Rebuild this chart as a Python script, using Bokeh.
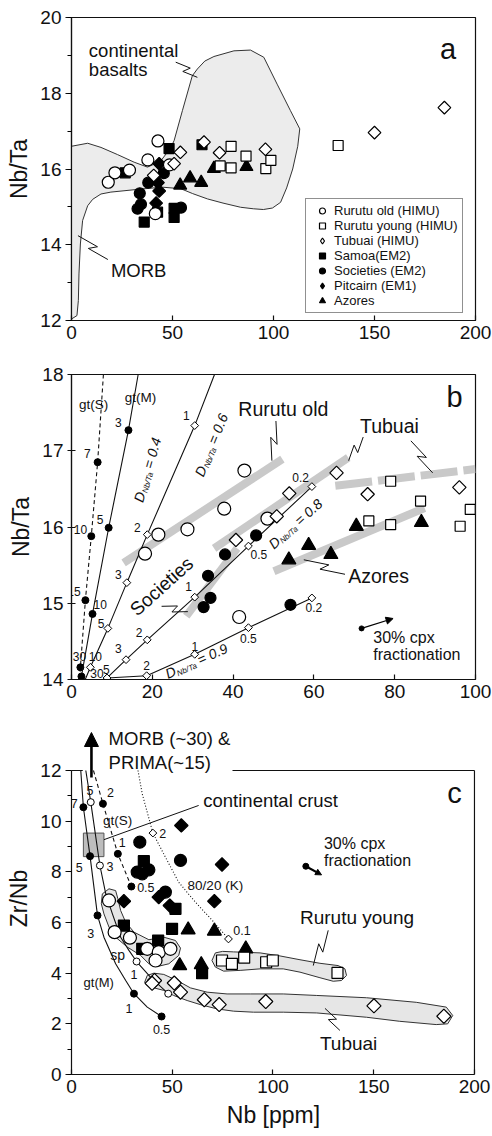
import math
from bokeh.plotting import figure
from bokeh.layouts import column
from bokeh.models import (Label, Legend, LegendItem, Arrow, NormalHead,
                          SingleIntervalTicker, Range1d)
from bokeh.embed import file_html
from bokeh.resources import INLINE

FONT = "Liberation Sans"

# ---------------- data : Nb (ppm) vs Nb/Ta (panels a, b) ----------------
rurutu_old_nb = [18.2, 21.5, 28.7, 37.8, 42.8, 48.5, 41.5]
rurutu_old_nbta = [15.65, 15.90, 15.97, 16.24, 16.74, 16.11, 14.82]
rurutu_young_nb = [73.6, 79.0, 79.0, 86.4, 96.2, 98.7, 132.0]
rurutu_young_nbta = [16.08, 16.60, 16.03, 16.34, 16.01, 16.23, 16.62]
tubuai_nb = [40.7, 50.8, 53.9, 65.6, 73.3, 96.0, 150.0, 184.6]
tubuai_nbta = [15.83, 16.14, 16.44, 16.71, 16.43, 16.52, 16.96, 17.62]
samoa_nb = [26.6, 48.3, 36.0, 42.6, 50.8, 50.8, 64.6]
samoa_nbta = [15.90, 16.54, 14.60, 14.86, 14.96, 14.72, 16.64]
societies_nb = [33.8, 38.0, 45.7, 34.4, 32.7, 54.2]
societies_nbta = [15.36, 15.64, 15.89, 15.07, 14.95, 14.98]
pitcairn_nb = [43.4, 42.8, 43.4, 41.9]
pitcairn_nbta = [16.14, 15.64, 15.42, 15.10]
azores_nb = [53.8, 58.7, 64.2, 70.5, 86.6]
azores_nbta = [15.57, 15.76, 15.64, 16.01, 16.06]

# field of continental basalts + MORB (panel a)
cont_field_nb = [0.0, 8.0, 14.6, 22.8, 31.0, 37.6, 44.0, 49.0, 50.8, 54.9, 59.8, 62.3, 66.0,
                 70.5, 80.4, 88.6, 95.2, 101.8, 108.4, 113.0, 112.0, 109.5, 106.5, 103.5, 99.5,
                 95.0, 90.0, 83.7, 75.0, 67.3, 60.0, 54.1, 45.0, 34.3, 19.5, 14.6, 10.5, 8.0,
                 5.5, 4.4, 3.7, 3.4, 2.7, 0.0]
cont_field_nbta = [16.60, 16.68, 16.57, 16.38, 16.18, 16.05, 16.20, 16.55, 16.75, 17.54, 18.46,
                   18.64, 18.85, 18.97, 19.12, 19.14, 18.95, 18.24, 17.54, 17.06, 16.60, 16.00,
                   15.50, 15.12, 14.97, 14.93, 14.95, 14.99, 15.10, 15.21, 15.35, 15.48, 15.52,
                   15.47, 15.39, 15.34, 15.20, 15.03, 14.64, 14.02, 13.23, 12.53, 12.13, 12.04]

# panel b trend bands
rur_old_band_nb = [12.9, 52.2]
rur_old_band_nbta = [15.53, 16.89]
societies_band_nb = [28.4, 41.0]
societies_band_nbta = [14.83, 15.72]
tubuai_band_nb = [35.3, 68.5]
tubuai_band_nbta = [15.72, 16.91]
tubuai_band2_nb = [65.3, 100.0]
tubuai_band2_nbta = [16.54, 16.76]
azores_band_nb = [50.1, 87.4]
azores_band_nbta = [15.42, 16.25]

# panel b melting models (F = % melting)
gtS_b_nb = [7.9, 6.47, 4.9, 3.44, 2.2, 1.95]
gtS_b_nbta = [18.0, 16.85, 15.88, 15.04, 14.16, 14.0]
gtS_b_F = [None, "7", "10", "15", "30", None]
gtM_b_nb = [16.5, 14.1, 9.2, 5.2, 2.46, 2.3]
gtM_b_nbta = [18.0, 17.27, 15.99, 14.86, 14.04, 14.0]
gtM_b_F = [None, "3", "5", "10", "30", None]
d06_nb = [35.4, 30.5, 18.75, 13.7, 9.0, 4.67, 3.4]
d06_nbta = [18.0, 17.33, 15.90, 15.27, 14.67, 14.16, 14.0]
d06_F = [None, "1", "2", "3", "5", "10", None]
d08_nb = [8.8, 13.5, 18.75, 30.5, 43.8, 59.5]
d08_nbta = [14.02, 14.26, 14.52, 15.08, 15.75, 16.53]
d09_nb = [8.8, 18.6, 30.5, 43.8, 59.5]
d09_nbta = [14.02, 14.05, 14.33, 14.68, 15.07]

# ---------------- data : Nb (ppm) vs Zr/Nb (panel c) ----------------
rurutu_old_nb_c = [18.6, 21.4, 29.0, 37.6, 43.3, 49.1, 41.7]
rurutu_old_zrnb = [6.87, 5.62, 5.40, 4.96, 4.83, 4.96, 4.50]
rurutu_young_nb_c = [74.7, 79.6, 85.7, 96.6, 99.9, 132.0]
rurutu_young_zrnb = [4.50, 4.37, 4.61, 4.43, 4.50, 4.01]
tubuai_nb_c = [41.2, 40.0, 51.0, 54.1, 65.9, 73.3, 96.4, 150.1, 184.8]
tubuai_zrnb = [3.71, 3.60, 3.61, 3.25, 2.95, 2.76, 2.88, 2.71, 2.30]
samoa_nb_c = [35.9, 26.0, 49.9, 43.0, 35.1, 64.8, 51.6]
samoa_zrnb = [8.42, 5.88, 5.75, 5.29, 4.96, 4.00, 6.54]
societies_nb_c = [33.9, 54.1, 32.6, 35.1, 38.4, 46.6]
societies_zrnb = [9.17, 8.45, 7.99, 7.92, 8.08, 7.20]
pitcairn_nb_c = [54.5, 74.7, 70.9, 26.0, 43.3, 48.8]
pitcairn_zrnb = [9.83, 8.29, 6.84, 6.84, 7.00, 6.67]
azores_nb_c = [57.9, 70.9, 86.5, 53.7, 64.4]
azores_zrnb = [5.71, 5.66, 4.96, 4.30, 4.34]

gtM_c_nb = [4.6, 5.9, 9.2, 12.9, 16.1, 21.9, 26.9, 31.0, 37.6, 44.7]
gtM_c_zrnb = [12.0, 10.55, 8.62, 6.28, 5.42, 4.37, 3.71, 3.19, 2.66, 2.29]
gtM_c_F = [None, "7", "5", "3", None, None, None, "1", None, "0.5"]
sp_c_nb = [7.1, 9.55, 14.1, 17.0, 20.3, 24.4, 28.5, 32.3, 39.2, 48.0]
sp_c_zrnb = [12.0, 10.75, 8.25, 7.13, 6.34, 5.42, 4.90, 4.46, 3.84, 3.19]
sp_c_F = [None, "5", "3", None, None, None, None, "1", None, "0.5"]
gtS_c_nb = [10.9, 15.6, 23.0, 29.7]
gtS_c_zrnb = [12.0, 10.69, 8.71, 7.42]
gtS_c_F = [None, "2", "1", "0.5"]
k8020_nb = [33.0, 35.1, 40.4, 46.6, 53.2, 61.5, 69.7, 77.9]
k8020_zrnb = [12.0, 11.08, 9.53, 8.58, 7.59, 6.80, 6.10, 5.35]
k8020_F = [None, None, "2", None, None, None, None, "0.1"]
cont_crust_nb = [5.9, 16.1]
cont_crust_zrnb = [8.6, 9.53]

rur_old_env_nb = [18.6, 21.9, 23.0, 24.4, 26.9, 31.0, 38.4, 45.8, 51.6, 54.1, 53.2, 48.3, 42.5,
                  38.4, 34.3, 27.7, 21.9, 18.6, 16.1, 14.8, 15.3]
rur_old_env_zrnb = [7.33, 7.26, 6.94, 6.47, 6.01, 5.62, 5.32, 5.42, 5.29, 4.99, 4.70, 4.37, 4.26,
                    4.37, 4.70, 5.03, 5.42, 5.82, 6.34, 6.74, 7.13]
rur_young_env_nb = [71.4, 75.0, 80.4, 93.6, 103.5, 113.4, 123.3, 132.3, 135.7, 136.5, 134.0,
                    129.9, 123.3, 113.4, 105.1, 93.6, 83.7, 75.5, 71.4, 69.7]
rur_young_env_zrnb = [4.80, 4.86, 4.84, 4.80, 4.68, 4.53, 4.39, 4.30, 4.17, 3.91, 3.71, 3.68,
                      3.82, 4.04, 4.17, 4.17, 4.11, 4.08, 4.24, 4.50]
tubuai_env_nb = [37.6, 40.9, 45.8, 52.4, 59.0, 67.3, 77.2, 88.7, 105.1, 121.7, 146.4, 171.1,
                 186.0, 189.2, 186.7, 181.0, 162.9, 146.4, 121.7, 105.1, 90.3, 80.4, 72.2, 63.9,
                 57.4, 50.7, 45.8, 40.9, 37.6, 36.3]
tubuai_env_zrnb = [3.91, 4.00, 3.95, 3.71, 3.42, 3.25, 3.18, 3.18, 3.18, 3.12, 3.03, 2.85, 2.66,
                   2.33, 2.00, 1.97, 2.10, 2.26, 2.43, 2.46, 2.46, 2.50, 2.59, 2.76, 2.92, 3.12,
                   3.32, 3.42, 3.51, 3.64]

# ---------------- helpers ----------------
INK = "#111111"


def make_fig(height, top, bottom, left, right, xr, yr, xint, yint, yminor):
    p = figure(width=492, height=height, x_range=Range1d(*xr), y_range=Range1d(*yr),
               output_backend="svg", toolbar_location=None,
               min_border_top=top, min_border_bottom=bottom,
               min_border_left=left, min_border_right=right)
    p.grid.visible = False
    p.outline_line_color = INK
    p.outline_line_width = 1.2
    p.xaxis.ticker = SingleIntervalTicker(interval=xint, num_minor_ticks=0)
    p.yaxis.ticker = SingleIntervalTicker(interval=yint, num_minor_ticks=yminor)
    for ax in p.axis:
        ax.axis_line_color = INK
        ax.axis_line_width = 1.2
        ax.major_tick_line_width = 1.2
        ax.minor_tick_line_width = 1.2
        ax.major_tick_line_color = INK
        ax.major_label_text_font = FONT
        ax.major_label_text_font_size = "19px"
        ax.major_label_text_color = INK
        ax.axis_label_text_font = FONT
        ax.axis_label_text_font_size = "23px"
        ax.axis_label_text_font_style = "normal"
        ax.axis_label_text_color = INK
    p.xaxis.major_tick_in = 5
    p.xaxis.major_tick_out = 0
    p.yaxis.major_tick_in = 0
    p.yaxis.major_tick_out = 6
    p.yaxis.minor_tick_in = 0
    p.yaxis.minor_tick_out = 4
    p.yaxis.major_label_standoff = 4
    p.xaxis.major_label_standoff = 5
    return p


def pts(p, x, y, marker, filled, size, angle=0.0, lw=1.2):
    return p.scatter(x, y, marker=marker, size=size, angle=angle,
                     fill_color="black" if filled else "white",
                     line_color="black", line_width=lw)


def txt(p, x, y, s, size=13, align="left", baseline="middle", angle=0.0,
        style="normal", xo=0.0, yo=0.0):
    p.add_layout(Label(x=x, y=y, text=s, text_font=FONT, text_font_size=f"{size}px",
                       text_align=align, text_baseline=baseline, angle=angle,
                       angle_units="deg", text_font_style=style, text_color=INK,
                       x_offset=xo, y_offset=yo))


def dlabel(p, x, y, ang, val):
    a = math.radians(ang)
    ca, sa = math.cos(a), math.sin(a)
    pieces = [("D", 14, 0.0, 0.0), ("Nb/Ta", 8, 10.5, -4.0), ("= " + val, 14, 35.0, 0.0)]
    for s, fs, along, perp in pieces:
        txt(p, x, y, s, size=fs, baseline="alphabetic", angle=ang, style="italic",
            xo=along * ca - perp * sa, yo=along * sa + perp * ca)


def zig(p, xs, ys, sx, sy, k=3.5):
    X0, Y0, X1, Y1 = xs[0] * sx, ys[0] * sy, xs[1] * sx, ys[1] * sy
    dx, dy = X1 - X0, Y1 - Y0
    L = math.hypot(dx, dy)
    nx, ny = -dy / L, dx / L
    px = [X0, X0 + 0.58 * dx + nx * k, X0 + 0.42 * dx - nx * k, X1]
    py = [Y0, Y0 + 0.58 * dy + ny * k, Y0 + 0.42 * dy - ny * k, Y1]
    p.line([v / sx for v in px], [v / sy for v in py], line_color=INK, line_width=1)


def model(p, xs, ys, labels, filled, dash="solid", msize=7, marker="circle", angle=0.0):
    p.line(xs, ys, line_color=INK, line_width=1.1, line_dash=dash)
    mx = [x for x, l in zip(xs, labels) if l is not None]
    my = [y for y, l in zip(ys, labels) if l is not None]
    pts(p, mx, my, marker, filled, msize, angle=angle, lw=1.0)


D45 = math.pi / 4

# ================= panel a =================
pa = make_fig(352, 17, 32, 70, 17, (0, 200), (12, 20), 50, 2, 2)
pa.yaxis.axis_label = "Nb/Ta"
sxa, sya = 405 / 200, 303 / 8
pa.patch(cont_field_nb, cont_field_nbta, fill_color="#ececec", line_color="#333333", line_width=1)
zig(pa, [51.6, 62.3], [18.82, 18.42], sxa, sya)
zig(pa, [18.0, 3.2], [13.61, 14.24], sxa, sya)

ra_soc = pts(pa, societies_nb, societies_nbta, "circle", True, 11)
ra_sam = pts(pa, samoa_nb, samoa_nbta, "square", True, 10)
ra_pit_key = pts(pa, pitcairn_nb, pitcairn_nbta, "diamond", True, 11)
pts(pa, pitcairn_nb, pitcairn_nbta, "square", True, 9, angle=D45)
ra_azo = pts(pa, azores_nb, azores_nbta, "triangle", True, 13)
ra_old = pts(pa, rurutu_old_nb, rurutu_old_nbta, "circle", False, 12)
ra_yng = pts(pa, rurutu_young_nb, rurutu_young_nbta, "square", False, 10)
ra_tub_key = pts(pa, tubuai_nb, tubuai_nbta, "diamond", False, 11)
pts(pa, tubuai_nb, tubuai_nbta, "square", False, 9, angle=D45)

txt(pa, 8.6, 19.12, "continental", size=18.5)
txt(pa, 8.6, 18.62, "basalts", size=18.5)
txt(pa, 19.5, 13.32, "MORB", size=18.5)
txt(pa, 186.4, 19.18, "a", size=29, align="center")

legend = Legend(items=[
    LegendItem(label="Rurutu old (HIMU)", renderers=[ra_old]),
    LegendItem(label="Rurutu young (HIMU)", renderers=[ra_yng]),
    LegendItem(label="Tubuai (HIMU)", renderers=[ra_tub_key]),
    LegendItem(label="Samoa(EM2)", renderers=[ra_sam]),
    LegendItem(label="Societies (EM2)", renderers=[ra_soc]),
    LegendItem(label="Pitcairn (EM1)", renderers=[ra_pit_key]),
    LegendItem(label="Azores", renderers=[ra_azo]),
], location=(234, 7), label_text_font=FONT, label_text_font_size="13px",
    label_text_color=INK, glyph_height=15, glyph_width=24, label_height=15,
    spacing=0, padding=4, margin=0, label_standoff=0,
    border_line_color="#222222", border_line_width=1, background_fill_color="white",
    background_fill_alpha=1.0)
pa.add_layout(legend)

# ================= panel b =================
pb = make_fig(360, 22, 33, 71, 14, (0, 100), (14, 18), 20, 1, 0)
pb.yaxis.axis_label = "Nb/Ta"
pb.yaxis.major_tick_in = 4
pb.yaxis.major_tick_out = 4
sxb, syb = 407 / 100, 305 / 4
band = "#c9c9c9"
pb.line(rur_old_band_nb, rur_old_band_nbta, line_color=band, line_width=8)
pb.line(societies_band_nb, societies_band_nbta, line_color=band, line_width=8)
pb.line(tubuai_band_nb, tubuai_band_nbta, line_color=band, line_width=8)
pb.line(tubuai_band2_nb, tubuai_band2_nbta, line_color=band, line_width=8, line_dash="37 6")
pb.line(azores_band_nb, azores_band_nbta, line_color=band, line_width=8)

model(pb, gtS_b_nb, gtS_b_nbta, gtS_b_F, True, dash="4 3", msize=7)
model(pb, gtM_b_nb, gtM_b_nbta, gtM_b_F, True, msize=7)
model(pb, d06_nb, d06_nbta, d06_F, False, msize=5.5, marker="square", angle=D45)
model(pb, d08_nb, d08_nbta, ["x"] * len(d08_nb), False, msize=5.5, marker="square", angle=D45)
model(pb, d09_nb, d09_nbta, ["x"] * len(d09_nb), False, msize=5.5, marker="square", angle=D45)

pts(pb, societies_nb, societies_nbta, "circle", True, 11)
pts(pb, azores_nb, azores_nbta, "triangle", True, 14)
pts(pb, rurutu_old_nb, rurutu_old_nbta, "circle", False, 13)
pts(pb, rurutu_young_nb, rurutu_young_nbta, "square", False, 10)
pts(pb, tubuai_nb, tubuai_nbta, "square", False, 9.5, angle=D45)

zig(pb, [50.6, 49.6], [17.39, 16.87], sxb, syb)
zig(pb, [72.2, 68.6], [17.18, 16.87], sxb, syb)
zig(pb, [84.0, 89.4], [17.13, 16.71], sxb, syb)
zig(pb, [67.7, 57.5], [15.38, 15.57], sxb, syb)
zig(pb, [22.3, 28.8], [14.96, 14.89], sxb, syb)

txt(pb, 41.3, 17.55, "Rurutu old", size=19.5)
txt(pb, 71.4, 17.32, "Tubuai", size=19.5)
txt(pb, 68.5, 15.36, "Azores", size=19.5)
txt(pb, 22.3, 15.22, "Societies", size=19, align="center", angle=42)
txt(pb, 94.8, 17.70, "b", size=29, align="center")
txt(pb, 5.5, 17.61, "gt(S)", size=13.5, align="center")
txt(pb, 17.1, 17.70, "gt(M)", size=13.5, align="center")
dlabel(pb, 16.5, 16.33, 74, "0.4")
dlabel(pb, 31.5, 16.67, 68, "0.6")
dlabel(pb, 49.3, 15.75, 42, "0.8")
dlabel(pb, 23.4, 14.065, 24, "0.9")

pb.add_layout(Arrow(end=NormalHead(size=7, fill_color="black", line_color="black"),
                    x_start=71.8, y_start=14.67, x_end=79.6, y_end=14.80,
                    line_width=1.2, line_color="black"))
pb.scatter([71.8], [14.67], marker="circle", size=5, fill_color="black", line_color="black")
txt(pb, 74.7, 14.55, "30% cpx", size=16)
txt(pb, 74.7, 14.33, "fractionation", size=16)

for (x, y, s) in [(28.4, 17.46, "1"), (16.3, 15.99, "2"), (11.6, 15.38, "3"), (7.3, 14.74, "5"),
                  (11.6, 17.37, "3"), (3.9, 16.96, "7"), (7.1, 16.10, "5"), (2.2, 15.97, "10"),
                  (0.6, 15.16, "15"), (7.1, 14.98, "10"), (29.0, 15.22, "1"), (46.4, 15.64, "0.5"),
                  (56.7, 16.65, "0.2"), (16.7, 14.61, "2"), (60.0, 14.94, "0.2"),
                  (43.8, 14.54, "0.5"), (30.5, 14.43, "1"), (18.6, 14.19, "2"), (11.6, 14.41, "3"),
                  (8.6, 14.13, "5"), (5.9, 14.30, "10"), (6.3, 14.075, "30")]:
    txt(pb, x, y, s, size=12, align="center")
txt(pb, 0.3, 14.30, "30", size=12, align="left")

# ================= panel c =================
# frame reaches above Zr/Nb = 12 so that the MORB/PRIMA note can sit over the top border
pc = make_fig(424, 10, 62, 71, 16, (0, 200.5), (0, 352 / (304 / 12)), 50, 2, 2)
pc.outline_line_color = None
pc.yaxis.axis_label = "Zr/Nb"
pc.xaxis.axis_label = "Nb [ppm]"
pc.xaxis.axis_label_standoff = 6
pc.yaxis.bounds = (0, 12)
pc.xaxis.bounds = (0, 200)
sxc, syc = 405 / 200.5, 304 / 12

pc.patch(rur_old_env_nb, rur_old_env_zrnb, fill_color="#e6e6e6", line_color="#333333", line_width=1)
pc.patch(rur_young_env_nb, rur_young_env_zrnb, fill_color="#e6e6e6", line_color="#333333", line_width=1)
pc.patch(tubuai_env_nb, tubuai_env_zrnb, fill_color="#e6e6e6", line_color="#333333", line_width=1)
pc.quad(left=[cont_crust_nb[0]], right=[cont_crust_nb[1]], bottom=[cont_crust_zrnb[0]],
        top=[cont_crust_zrnb[1]], fill_color="#bdbdbd", line_color="#555555", line_width=1)

model(pc, gtM_c_nb, gtM_c_zrnb, gtM_c_F, True, msize=7)
model(pc, sp_c_nb, sp_c_zrnb, sp_c_F, False, msize=7)
model(pc, gtS_c_nb, gtS_c_zrnb, gtS_c_F, True, dash="4 3", msize=7)
model(pc, k8020_nb, k8020_zrnb, k8020_F, False, dash="1 2", msize=5.5, marker="square", angle=D45)

pts(pc, societies_nb_c, societies_zrnb, "circle", True, 12)
pts(pc, samoa_nb_c, samoa_zrnb, "square", True, 11)
pts(pc, pitcairn_nb_c, pitcairn_zrnb, "square", True, 9.5, angle=D45)
pts(pc, azores_nb_c, azores_zrnb, "triangle", True, 14)
pts(pc, rurutu_old_nb_c, rurutu_old_zrnb, "circle", False, 13)
pts(pc, rurutu_young_nb_c, rurutu_young_zrnb, "square", False, 11)
pts(pc, tubuai_nb_c, tubuai_zrnb, "square", False, 10, angle=D45)

pc.line([cont_crust_nb[1], 63.1], [9.27, 10.62], line_color=INK, line_width=1)
zig(pc, [127.4, 120.0], [5.69, 4.30], sxc, syc)
zig(pc, [133.2, 125.8], [1.74, 2.61], sxc, syc)

# frame: top border (broken by the MORB/PRIMA note) and right border
pc.line([0, 5.6], [12, 12], line_color=INK, line_width=1.2)
pc.line([79.9, 200], [12, 12], line_color=INK, line_width=1.2)
pc.line([200, 200], [0, 12], line_color=INK, line_width=1.2)
pc.add_layout(Arrow(end=NormalHead(size=14, fill_color="black", line_color="black"),
                    x_start=9.9, y_start=11.72, x_end=9.9, y_end=13.5,
                    line_width=2.6, line_color="black"))
txt(pc, 18.4, 13.26, "MORB (~30) &", size=18.5)
txt(pc, 18.4, 12.32, "PRIMA(~15)", size=18.5)

txt(pc, 65.4, 10.82, "continental crust", size=18.5)
txt(pc, 190.1, 11.1, "c", size=29, align="center")
txt(pc, 22.9, 10.03, "gt(S)", size=13.5, align="center")
txt(pc, 71.4, 7.46, "80/20 (K)", size=13.5, align="center")
txt(pc, 22.9, 4.70, "sp", size=14, align="center")
txt(pc, 13.5, 3.63, "gt(M)", size=13, align="center")
txt(pc, 125.3, 9.12, "30% cpx", size=16)
txt(pc, 125.3, 8.45, "fractionation", size=16)
txt(pc, 113.4, 6.20, "Rurutu young", size=19)
txt(pc, 123.3, 1.22, "Tubuai", size=19)
pc.add_layout(Arrow(end=NormalHead(size=6, fill_color="black", line_color="black"),
                    x_start=116.3, y_start=8.22, x_end=124.1, y_end=7.88,
                    line_width=2.2, line_color="black"))
pc.scatter([116.3], [8.22], marker="circle", size=6, fill_color="black", line_color="black")

for (x, y, s) in [(1.3, 10.69, "7"), (9.2, 11.21, "5"), (19.4, 11.15, "2"), (25.2, 9.17, "1"),
                  (36.9, 7.39, "0.5"), (3.8, 8.18, "5"), (19.1, 8.21, "3"), (9.5, 5.55, "3"),
                  (45.3, 9.50, "2"), (84.6, 5.69, "0.1"), (31.0, 3.95, "1"), (28.5, 2.59, "1"),
                  (44.7, 1.76, "0.5")]:
    txt(pc, x, y, s, size=12.5, align="center")

layout = column(pa, pb, pc)
open("out.html", "w").write(file_html(layout, INLINE))
